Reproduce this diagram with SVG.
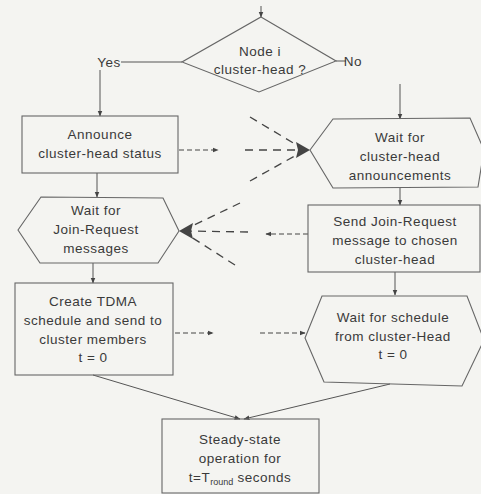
<svg xmlns="http://www.w3.org/2000/svg" width="481" height="494" viewBox="0 0 481 494">
<style>
.bg{fill:#f4f4f1}
.n{fill:none;stroke:#666;stroke-width:1.1}
.c{fill:none;stroke:#555;stroke-width:1}
.d{fill:none;stroke:#444;stroke-width:1.3;stroke-dasharray:8 6}
.d2{fill:none;stroke:#444;stroke-width:1.2;stroke-dasharray:5 3}
text{font-family:"Liberation Sans",Arial,sans-serif;font-size:13.5px;fill:#3a3a3a;text-anchor:middle;letter-spacing:0.5px}
.ah{fill:#444}
</style>
<defs>
<marker id="a" viewBox="0 0 10 10" refX="9" refY="5" markerWidth="6" markerHeight="6" orient="auto" markerUnits="userSpaceOnUse"><path d="M0,1 L10,5 L0,9 Z" fill="#444"/></marker>
</defs>
<rect class="bg" width="481" height="494"/>
<g id="connectors">
<line class="c" x1="261" y1="6" x2="261" y2="17" marker-end="url(#a)"/>
<line class="c" x1="121" y1="62" x2="182" y2="62"/>
<line class="c" x1="336" y1="61" x2="346" y2="61"/>
<line class="c" x1="100" y1="70" x2="100" y2="116" marker-end="url(#a)"/>
<line class="c" x1="400" y1="84" x2="400" y2="119" marker-end="url(#a)"/>
<line class="c" x1="97" y1="173" x2="97" y2="197" marker-end="url(#a)"/>
<line class="c" x1="400" y1="188" x2="400" y2="205" marker-end="url(#a)"/>
<line class="c" x1="93" y1="263" x2="93" y2="283" marker-end="url(#a)"/>
<line class="c" x1="395" y1="272" x2="395" y2="295" marker-end="url(#a)"/>
<line class="c" x1="93" y1="375" x2="240" y2="419" marker-end="url(#a)"/>
<line class="c" x1="390" y1="384" x2="244" y2="419" marker-end="url(#a)"/>
<line class="d2" x1="179" y1="150" x2="218" y2="150" marker-end="url(#a)"/>
<line class="d" x1="250" y1="117" x2="300" y2="147"/>
<line class="d" x1="245" y1="150" x2="300" y2="150"/>
<line class="d" x1="250" y1="181" x2="300" y2="153"/>
<path class="ah" d="M310,150 L296,142 L298,150 L296,158 Z"/>
<line class="d2" x1="308" y1="234" x2="266" y2="234" marker-end="url(#a)"/>
<line class="d" x1="240" y1="203" x2="188" y2="228"/>
<line class="d" x1="248" y1="232" x2="188" y2="231"/>
<line class="d" x1="235" y1="265" x2="188" y2="235"/>
<path class="ah" d="M179,231 L193,223 L191,231 L193,239 Z"/>
<line class="d2" x1="175" y1="333" x2="213" y2="333" marker-end="url(#a)"/>
<line class="d2" x1="260" y1="333" x2="305" y2="333" marker-end="url(#a)"/>
</g>
<g id="decision">
<polygon class="n" points="261,17 336,61 259,92 182,62"/>
<text x="260" y="56">Node i</text>
<text x="260" y="74">cluster-head ?</text>
</g>
<g id="yes"><text x="109" y="67">Yes</text></g>
<g id="no"><text x="353" y="66">No</text></g>
<g id="announce">
<rect class="n" x="22" y="116" width="156" height="57"/>
<text x="100" y="139">Announce</text>
<text x="100" y="158">cluster-head status</text>
</g>
<g id="wait-announce">
<polygon class="n" points="310,150 333,119 470,118 484,150 478,187 333,188"/>
<text x="400" y="142">Wait for</text>
<text x="400" y="161">cluster-head</text>
<text x="400" y="180">announcements</text>
</g>
<g id="wait-join">
<polygon class="n" points="18,230 41,197 163,198 179,231 158,263 40,263"/>
<text x="96" y="215">Wait for</text>
<text x="96" y="234">Join-Request</text>
<text x="96" y="253">messages</text>
</g>
<g id="send-join">
<rect class="n" x="308" y="205" width="172" height="67"/>
<text x="395" y="226">Send Join-Request</text>
<text x="395" y="245">message to chosen</text>
<text x="395" y="264">cluster-head</text>
</g>
<g id="create-tdma">
<rect class="n" x="15" y="283" width="158" height="92"/>
<text x="93" y="306">Create TDMA</text>
<text x="93" y="325">schedule and send to</text>
<text x="93" y="344">cluster members</text>
<text x="93" y="362">t = 0</text>
</g>
<g id="wait-schedule">
<polygon class="n" points="305,338 322,296 467,296 484,340 462,386 324,382"/>
<text x="393" y="322">Wait for schedule</text>
<text x="393" y="341">from cluster-Head</text>
<text x="393" y="359">t = 0</text>
</g>
<g id="steady">
<rect class="n" x="162" y="419" width="157" height="74"/>
<text x="240" y="444">Steady-state</text>
<text x="240" y="463">operation for</text>
<text x="240" y="482">t=T<tspan font-size="9" dy="3" letter-spacing="0">round</tspan><tspan dy="-3"> seconds</tspan></text>
</g>
</svg>
